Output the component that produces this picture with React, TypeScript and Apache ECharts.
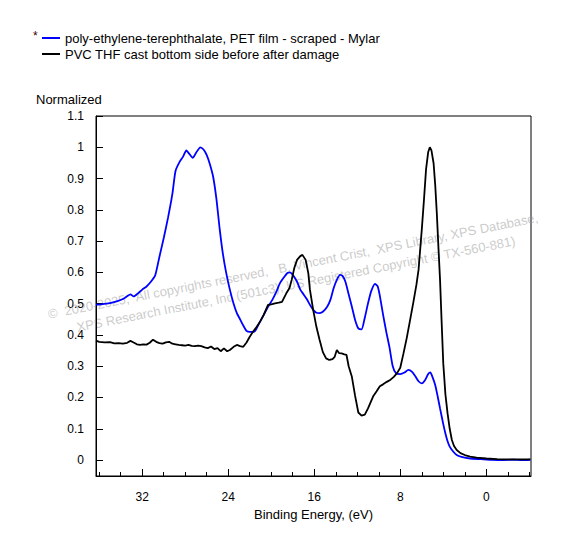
import React, { useEffect, useRef } from "react";
import * as echarts from "echarts";

// PET (blue) — binding energy (eV) and normalized intensity
const PET_BE = [
  36.3, 35.8, 35.3, 34.8, 34.3, 33.8, 33.4, 33.1, 32.8, 32.4, 32.0, 31.6, 31.2, 30.8, 30.4, 30.0,
  29.6, 29.2, 28.9, 28.5, 28.2, 27.9, 27.6, 27.3, 27.0, 26.6, 26.3, 26.0, 25.7, 25.4, 25.1, 24.8,
  24.5, 24.2, 23.85, 23.5, 23.2, 22.9, 22.6, 22.3, 22.0, 21.6, 21.3, 21.0, 20.7, 20.3, 19.9, 19.5,
  19.2, 18.8, 18.5, 18.26, 18.0, 17.6, 17.3, 17.0, 16.7, 16.4, 16.1, 15.8, 15.5, 15.2, 14.8, 14.5,
  14.2, 13.9, 13.6, 13.35, 13.1, 12.8, 12.5, 12.2, 11.9, 11.6, 11.3, 11.0, 10.7, 10.35, 10.1, 9.9,
  9.6, 9.3, 9.0, 8.7, 8.4, 8.0, 7.6, 7.25, 6.9, 6.6, 6.3, 6.0, 5.7, 5.4, 5.2, 5.0,
  4.75, 4.5, 4.3, 4.0, 3.8, 3.6, 3.4, 3.1, 2.75, 2.3, 1.5, 0.5, -0.5, -1.6, -2.5, -3.2, -4.1,
];
const PET_VAL = [
  0.497, 0.498, 0.5, 0.503, 0.508, 0.515, 0.524, 0.53, 0.523, 0.533, 0.545, 0.555, 0.57, 0.59, 0.65, 0.71,
  0.775, 0.85, 0.925, 0.955, 0.97, 0.99, 0.978, 0.966, 0.982, 1.0, 0.993, 0.975, 0.945, 0.905, 0.835, 0.74,
  0.66, 0.6, 0.545, 0.5, 0.47, 0.45, 0.43, 0.413, 0.41, 0.41, 0.425, 0.445, 0.464, 0.49, 0.512, 0.54,
  0.565, 0.585, 0.598, 0.6, 0.592, 0.57, 0.545, 0.53, 0.515, 0.496, 0.48, 0.471, 0.47, 0.474, 0.49, 0.512,
  0.549, 0.576, 0.592, 0.588, 0.57, 0.53, 0.49, 0.448, 0.421, 0.418, 0.455, 0.501, 0.54, 0.563, 0.555, 0.525,
  0.465, 0.41, 0.36, 0.3, 0.278, 0.275, 0.28, 0.288, 0.282, 0.268, 0.252, 0.245, 0.255, 0.275, 0.28, 0.265,
  0.24, 0.2, 0.165, 0.115, 0.085, 0.06, 0.043, 0.028, 0.016, 0.01, 0.005, 0.003, 0.001, 0.0, 0.001, 0.0, 0.001,
];

// PVC (black)
const PVC_BE = [
  36.3, 36.0, 35.5, 35.0, 34.6, 34.2, 33.8, 33.4, 33.1, 32.8, 32.5, 32.2, 31.9, 31.6, 31.3, 31.0,
  30.7, 30.4, 30.1, 29.8, 29.5, 29.2, 28.9, 28.6, 28.3, 28.0, 27.7, 27.4, 27.1, 26.8, 26.5, 26.2,
  25.9, 25.6, 25.3, 25.0, 24.7, 24.4, 24.1, 23.85, 23.5, 23.2, 22.9, 22.6, 22.3, 22.0, 21.7, 21.35,
  21.0, 20.7, 20.5, 20.3, 20.0, 19.65, 19.3, 19.0, 18.6, 18.3, 18.1, 17.85, 17.6, 17.3, 17.1, 16.8,
  16.55, 16.4, 16.1, 15.8, 15.5, 15.2, 14.9, 14.6, 14.3, 14.1, 13.9, 13.7, 13.45, 13.2, 13.0, 12.8,
  12.5, 12.2, 11.9, 11.6, 11.3, 11.0, 10.8, 10.5, 10.2, 9.9, 9.6, 9.25, 8.9, 8.6, 8.3, 8.0,
  7.7, 7.4, 7.1, 6.8, 6.5, 6.3, 6.0, 5.8, 5.6, 5.4, 5.25, 5.1, 4.9, 4.75, 4.6, 4.45,
  4.3, 4.15, 4.0, 3.8, 3.6, 3.4, 3.2, 3.0, 2.75, 2.4, 2.0, 1.5, 0.9, 0.0, -1.0, -2.0, -3.0, -4.1,
];
const PVC_VAL = [
  0.382, 0.378, 0.376, 0.377, 0.373, 0.374, 0.372, 0.375, 0.381, 0.376, 0.37, 0.368, 0.37, 0.369, 0.375, 0.385,
  0.378, 0.374, 0.372, 0.376, 0.378, 0.372, 0.37, 0.368, 0.367, 0.366, 0.368, 0.365, 0.364, 0.366, 0.364, 0.36,
  0.358, 0.363, 0.355, 0.358, 0.348, 0.357, 0.348, 0.352, 0.362, 0.368, 0.364, 0.362, 0.376, 0.394, 0.41, 0.426,
  0.445, 0.464, 0.48, 0.496, 0.498, 0.501, 0.503, 0.506, 0.533, 0.55, 0.576, 0.615, 0.64, 0.652, 0.656, 0.64,
  0.597, 0.544, 0.48, 0.426, 0.384, 0.345, 0.325, 0.32, 0.323, 0.33, 0.352, 0.342, 0.341, 0.338, 0.336, 0.3,
  0.266, 0.205, 0.152, 0.142, 0.145, 0.165, 0.181, 0.205, 0.22, 0.236, 0.242, 0.25, 0.257, 0.266, 0.278, 0.295,
  0.341, 0.39, 0.445, 0.501, 0.56, 0.608, 0.736, 0.83, 0.93, 0.985, 1.0, 0.99, 0.949, 0.88, 0.789, 0.68,
  0.576, 0.44, 0.309, 0.21, 0.149, 0.1, 0.064, 0.045, 0.032, 0.022, 0.016, 0.011, 0.008, 0.005, 0.003, 0.002, 0.002, 0.002,
];

const SERIES_NAMES = [
  "poly-ethylene-terephthalate, PET film - scraped - Mylar",
  "PVC THF cast bottom side before after damage",
];
const SERIES_COLORS = ["#0000ff", "#000000"];

const X_MAJOR = [32, 24, 16, 8, 0];
const X_MINOR = [36, 34, 30, 28, 26, 22, 20, 18, 14, 12, 10, 6, 4, 2, -2, -4];
const Y_TICKS = [0, 0.1, 0.2, 0.3, 0.4, 0.5, 0.6, 0.7, 0.8, 0.9, 1, 1.1];
const X_NAME = "Binding Energy, (eV)";
const Y_NAME = "Normalized";
const WATERMARK = [
  "©  2020-2025,  All copyrights reserved,   B. Vincent Crist,  XPS Library, XPS Database,",
  "XPS Research Institute, Inc (501c3), US Registered Copyright © TX-560-881)",
];

const X_MIN = -4.16;
const X_MAX = 36.3;
const Y_MIN = -0.051;
const Y_MAX = 1.1;

const FONT = "Liberation Sans, Arial, sans-serif";

function zip(xs: number[], ys: number[]) {
  return xs.map((x, i) => [x, ys[i]]);
}

export default function App() {
  const ref = useRef<HTMLDivElement>(null);
  useEffect(() => {
    if (!ref.current) return;
    const chart = echarts.init(ref.current, null, { renderer: "svg" });
    const rot = (11.2 * Math.PI) / 180;
    chart.setOption({
      animation: false,
      backgroundColor: "#ffffff",
      textStyle: { fontFamily: FONT },
      grid: {
        left: 96,
        right: 57,
        top: 116,
        bottom: 74,
        show: true,
        borderColor: "#000",
        borderWidth: 1,
        backgroundColor: "transparent",
      },
      legend: {
        left: 37,
        top: 26,
        orient: "vertical",
        itemWidth: 18,
        itemHeight: 14,
        itemGap: 2,
        icon: "path://M0,6 L18,6 L18,8 L0,8 Z",
        textStyle: { fontSize: 13, color: "#000", fontFamily: FONT, lineHeight: 14 },
        data: SERIES_NAMES,
      },
      xAxis: [
        {
          type: "value",
          inverse: true,
          min: X_MIN,
          max: X_MAX,
          name: X_NAME,
          nameLocation: "middle",
          nameGap: 30,
          nameTextStyle: { fontSize: 13, color: "#000", fontFamily: FONT },
          axisLine: { show: true, onZero: false, lineStyle: { color: "#000", width: 1 } },
          axisTick: { show: true, inside: true, length: 7, customValues: X_MAJOR, lineStyle: { color: "#000" } },
          axisLabel: { show: true, customValues: X_MAJOR, margin: 15, fontSize: 12, color: "#000", fontFamily: FONT },
          splitLine: { show: false },
        },
        {
          type: "value",
          inverse: true,
          min: X_MIN,
          max: X_MAX,
          position: "bottom",
          axisLine: { show: false, onZero: false },
          axisTick: { show: true, inside: true, length: 4, customValues: X_MINOR, lineStyle: { color: "#000" } },
          axisLabel: { show: false },
          splitLine: { show: false },
        },
      ],
      yAxis: {
        type: "value",
        min: Y_MIN,
        max: Y_MAX,
        position: "left",
        axisLine: { show: true, onZero: false, lineStyle: { color: "#000", width: 1 } },
        axisTick: { show: true, inside: true, length: 7, customValues: Y_TICKS, lineStyle: { color: "#000" } },
        axisLabel: {
          show: true,
          customValues: Y_TICKS,
          margin: 12,
          fontSize: 12,
          color: "#000",
          fontFamily: FONT,
          formatter: (v: number) => String(Math.round(v * 10) / 10),
        },
        splitLine: { show: false },
      },
      graphic: [
        {
          type: "text",
          left: 36,
          top: 93,
          z: 10,
          style: { text: Y_NAME, fontSize: 13, fill: "#000", fontFamily: FONT },
        },
        {
          type: "text",
          left: 33,
          top: 30,
          z: 10,
          style: { text: "*", fontSize: 12, fill: "#400000", fontFamily: FONT },
        },
        {
          type: "text",
          x: 293,
          y: 266,
          rotation: rot,
          z: 0,
          style: {
            text: WATERMARK[0],
            fontSize: 13,
            fill: "rgba(150,150,150,0.5)",
            fontFamily: FONT,
            align: "center",
            verticalAlign: "middle",
          },
        },
        {
          type: "text",
          x: 296,
          y: 284,
          rotation: rot,
          z: 0,
          style: {
            text: WATERMARK[1],
            fontSize: 13,
            fill: "rgba(150,150,150,0.5)",
            fontFamily: FONT,
            align: "center",
            verticalAlign: "middle",
          },
        },
      ],
      series: [
        {
          name: SERIES_NAMES[0],
          type: "line",
          xAxisIndex: 0,
          data: zip(PET_BE, PET_VAL),
          showSymbol: false,
          symbol: "none",
          smooth: 0.2,
          lineStyle: { color: SERIES_COLORS[0], width: 1.8 },
          itemStyle: { color: SERIES_COLORS[0] },
          z: 3,
        },
        {
          name: SERIES_NAMES[1],
          type: "line",
          xAxisIndex: 0,
          data: zip(PVC_BE, PVC_VAL),
          showSymbol: false,
          symbol: "none",
          lineStyle: { color: SERIES_COLORS[1], width: 1.8 },
          itemStyle: { color: SERIES_COLORS[1] },
          z: 4,
        },
      ],
    });
    return () => chart.dispose();
  }, []);
  return (
    <div
      ref={ref}
      style={{ position: "fixed", left: 0, top: 0, width: 588, height: 550, background: "#fff" }}
    />
  );
}
